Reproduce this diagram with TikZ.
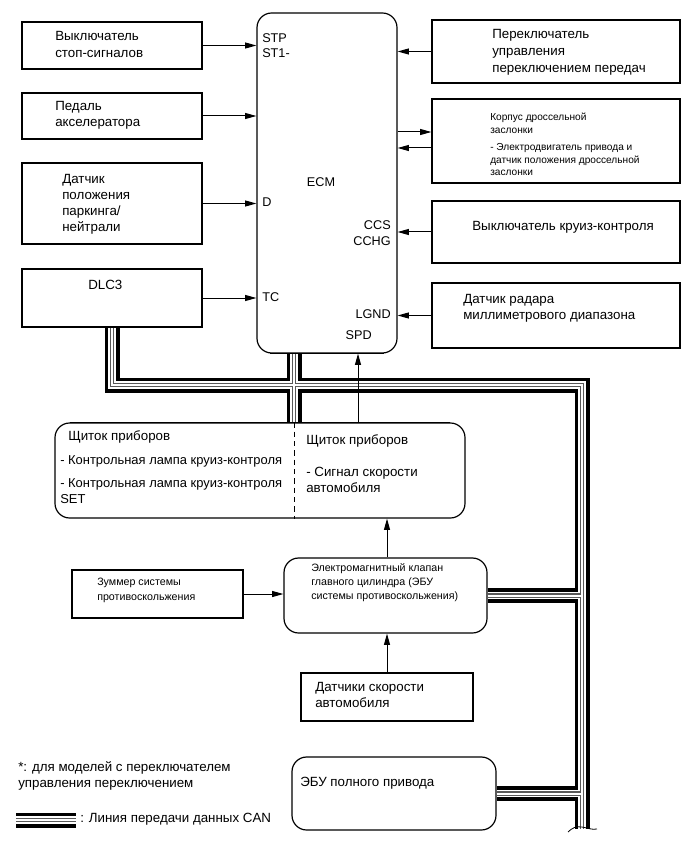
\documentclass[tikz,border=0pt]{standalone}
\usepackage{fontspec}
\setmainfont{Liberation Sans}
\usetikzlibrary{arrows.meta,fit}
\begin{document}
\begin{tikzpicture}[x=0.75pt,y=-0.75pt,
  box/.style={draw, line width=0.9pt, inner sep=0pt},
  rbox/.style={box, rounded corners=11pt},
  lbl/.style={inner sep=0pt, anchor=west, align=left},
  lble/.style={inner sep=0pt, anchor=east, align=right},
  fA/.style={font=\fontsize{10}{12.75}\selectfont},
  fB/.style={font=\fontsize{10}{12}\selectfont},
  fC/.style={font=\fontsize{9.7}{12}\selectfont},
  fS/.style={font=\fontsize{7.6}{9.4}\selectfont},
  fE/.style={font=\fontsize{9.5}{11.5}\selectfont},
  fM/.style={font=\fontsize{8}{10.5}\selectfont},
  fZ/.style={font=\fontsize{8}{11.25}\selectfont},
  arr/.style={-{Triangle[length=8.5pt,width=4.5pt]}, line width=0.75pt},
  busA/.style={line width=11.25pt, black, line join=miter},
  busB/.style={line width=5.4pt, white},
  busC/.style={line width=3.6pt, black!65},
  busD/.style={line width=1.5pt, white},
]
\fill[white] (0,0) rectangle (690,855);
\useasboundingbox (0,0) rectangle (690,855);

% boxes (shapes)
\node[box, fit={(22,22) (202,69)}] (b1) {};
\node[box, fit={(22,93) (202,139)}] (b2) {};
\node[box, fit={(22,163) (202,244)}] (b3) {};
\node[box, fit={(22,269) (202,327)}] (dlc) {};
\node[rbox, fit={(257,13) (397,353)}] (ecm) {};
\node[box, fit={(432,20) (680,83)}] (r1) {};
\node[box, fit={(432,99) (680,183)}] (r2) {};
\node[box, fit={(432,201) (680,263)}] (r3) {};
\node[box, fit={(432,283) (680,348)}] (r4) {};
\node[rbox, fit={(55,423) (465,518)}] (shit) {};
\node[box, fit={(72,570) (243,618)}] (buz) {};
\node[rbox, fit={(284,558) (487,633)}] (abs) {};
\node[box, fit={(301,673) (473,721)}] (sens) {};
\node[rbox, fit={(292,757) (496,830)}] (awd) {};

% CAN bus
\coordinate (jx) at (294,385);
\coordinate (rx) at (582,385);
\coordinate (bend) at (582,829);
\coordinate (lg1) at (16,820);
\coordinate (lg2) at (76,820);
\foreach \s in {busA,busB,busC,busD}{
  \draw[\s] (dlc.south) |- (rx) -- (bend);
  \draw[\s] (ecm.south -| jx) -- (shit.north -| jx);
  \draw[\s] (abs.east) -- (abs.east -| rx);
  \draw[\s] (awd.east) -- (awd.east -| rx);
  \draw[\s] (lg1) -- (lg2);
}
\draw[line width=0.6pt] (568,832) .. controls (572,828) and (576,826) .. (582,827)
  .. controls (588,828) and (592,830) .. (597,829);

% redraw borders over bus ends
\draw[line width=0.9pt] (dlc.south west) -- (dlc.south east);
\draw[line width=0.9pt] (ecm.south -| 270,0) -- (ecm.south -| 384,0);
\draw[line width=0.9pt] (shit.north -| 70,0) -- (shit.north -| 450,0);

% dashed divider
\draw[line width=0.6pt, dash pattern=on 4pt off 3pt] (shit.north -| jx) -- (shit.south -| jx);

% texts
\node[lbl,fA] (t1) at (55,44) {Выключатель\\стоп-сигналов};
\node[lbl,fB] (t2) at (55,115) {Педаль\\акселератора};
\node[lbl,fB] (t3) at (62,204) {Датчик\\положения\\паркинга/\\нейтрали};
\node[lbl,fB] (t4) at (88,285) {DLC3};
\node[lbl,fE] (stp) at (262,38) {STP};
\node[lbl,fE] (st1) at (262,53) {ST1-};
\node[fE, inner sep=0pt] (ecmt) at (321,182) {ECM};
\node[lbl,fE] (dpin) at (262,202) {D};
\node[lbl,fE] (tcpin) at (262,297) {TC};
\node[lble,fE] (ccs) at (391,225) {CCS};
\node[lble,fE] (cchg) at (391,241) {CCHG};
\node[lble,fE] (lgnd) at (391,314) {LGND};
\node[lble,fE] (spd) at (372,335) {SPD};
\node[lbl,fA] (rt1) at (492,52) {Переключатель\\управления\\переключением передач};
\node[lbl,fS] (rt2) at (490,144.5) {Корпус дроссельной\\заслонки\\[3.5pt]- Электродвигатель привода и\\датчик положения дроссельной\\заслонки};
\node[lbl,fA] (rt3) at (472,227) {Выключатель круиз-контроля};
\node[lbl,fB] (rt4) at (463,308) {Датчик радара\\миллиметрового диапазона};
\node[lbl,fB] (sh1) at (68,437) {Щиток приборов};
\node[lbl,fC] (sh2) at (60,461) {- Контрольная лампа круиз-контроля};
\node[lbl,fC] (sh3) at (60,491) {- Контрольная лампа круиз-контроля\\SET};
\node[lbl,fB] (sh4) at (306,441) {Щиток приборов};
\node[lbl,fB] (sh5) at (306,480) {- Сигнал скорости\\автомобиля};
\node[lbl,fZ] (bzt) at (97,590.5) {Зуммер системы\\противоскольжения};
\node[lbl,fM] (abt) at (311,583) {Электромагнитный клапан\\главного цилиндра (ЭБУ\\системы противоскольжения)};
\node[lbl,fB] (snt) at (315,695) {Датчики скорости\\автомобиля};
\node[lbl,fB] (awt) at (300,783) {ЭБУ полного привода};
\node[lbl,fB] (fn) at (18,776) {*: для моделей с переключателем\\управления переключением};
\node[lbl,fB] (lgt) at (80,819) {: Линия передачи данных CAN};

% arrows
\draw[arr] (b1.east) -- (b1.east -| ecm.west);
\draw[arr] (b2.east) -- (b2.east -| ecm.west);
\draw[arr] (b3.east) -- (b3.east -| ecm.west);
\draw[arr] (dlc.east) -- (dlc.east -| ecm.west);
\draw[arr] (r1.west) -- (r1.west -| ecm.east);
\coordinate (r2a) at ([yshift=6.75pt]r2.west);
\coordinate (r2b) at ([yshift=-5.25pt]r2.west);
\draw[arr] (r2a -| ecm.east) -- (r2a);
\draw[arr] (r2b) -- (r2b -| ecm.east);
\draw[arr] (r3.west) -- (r3.west -| ecm.east);
\draw[arr] (r4.west) -- (r4.west -| ecm.east);
\coordinate (spdx) at (358,0);
\draw[arr] (shit.north -| spdx) -- (ecm.south -| spdx);
\draw[arr] (abs.north -| sens.north) -- (shit.south -| sens.north);
\draw[arr] (sens.north) -- (abs.south -| sens.north);
\draw[arr] (buz.east) -- (buz.east -| abs.west);
\end{tikzpicture}
\end{document}
